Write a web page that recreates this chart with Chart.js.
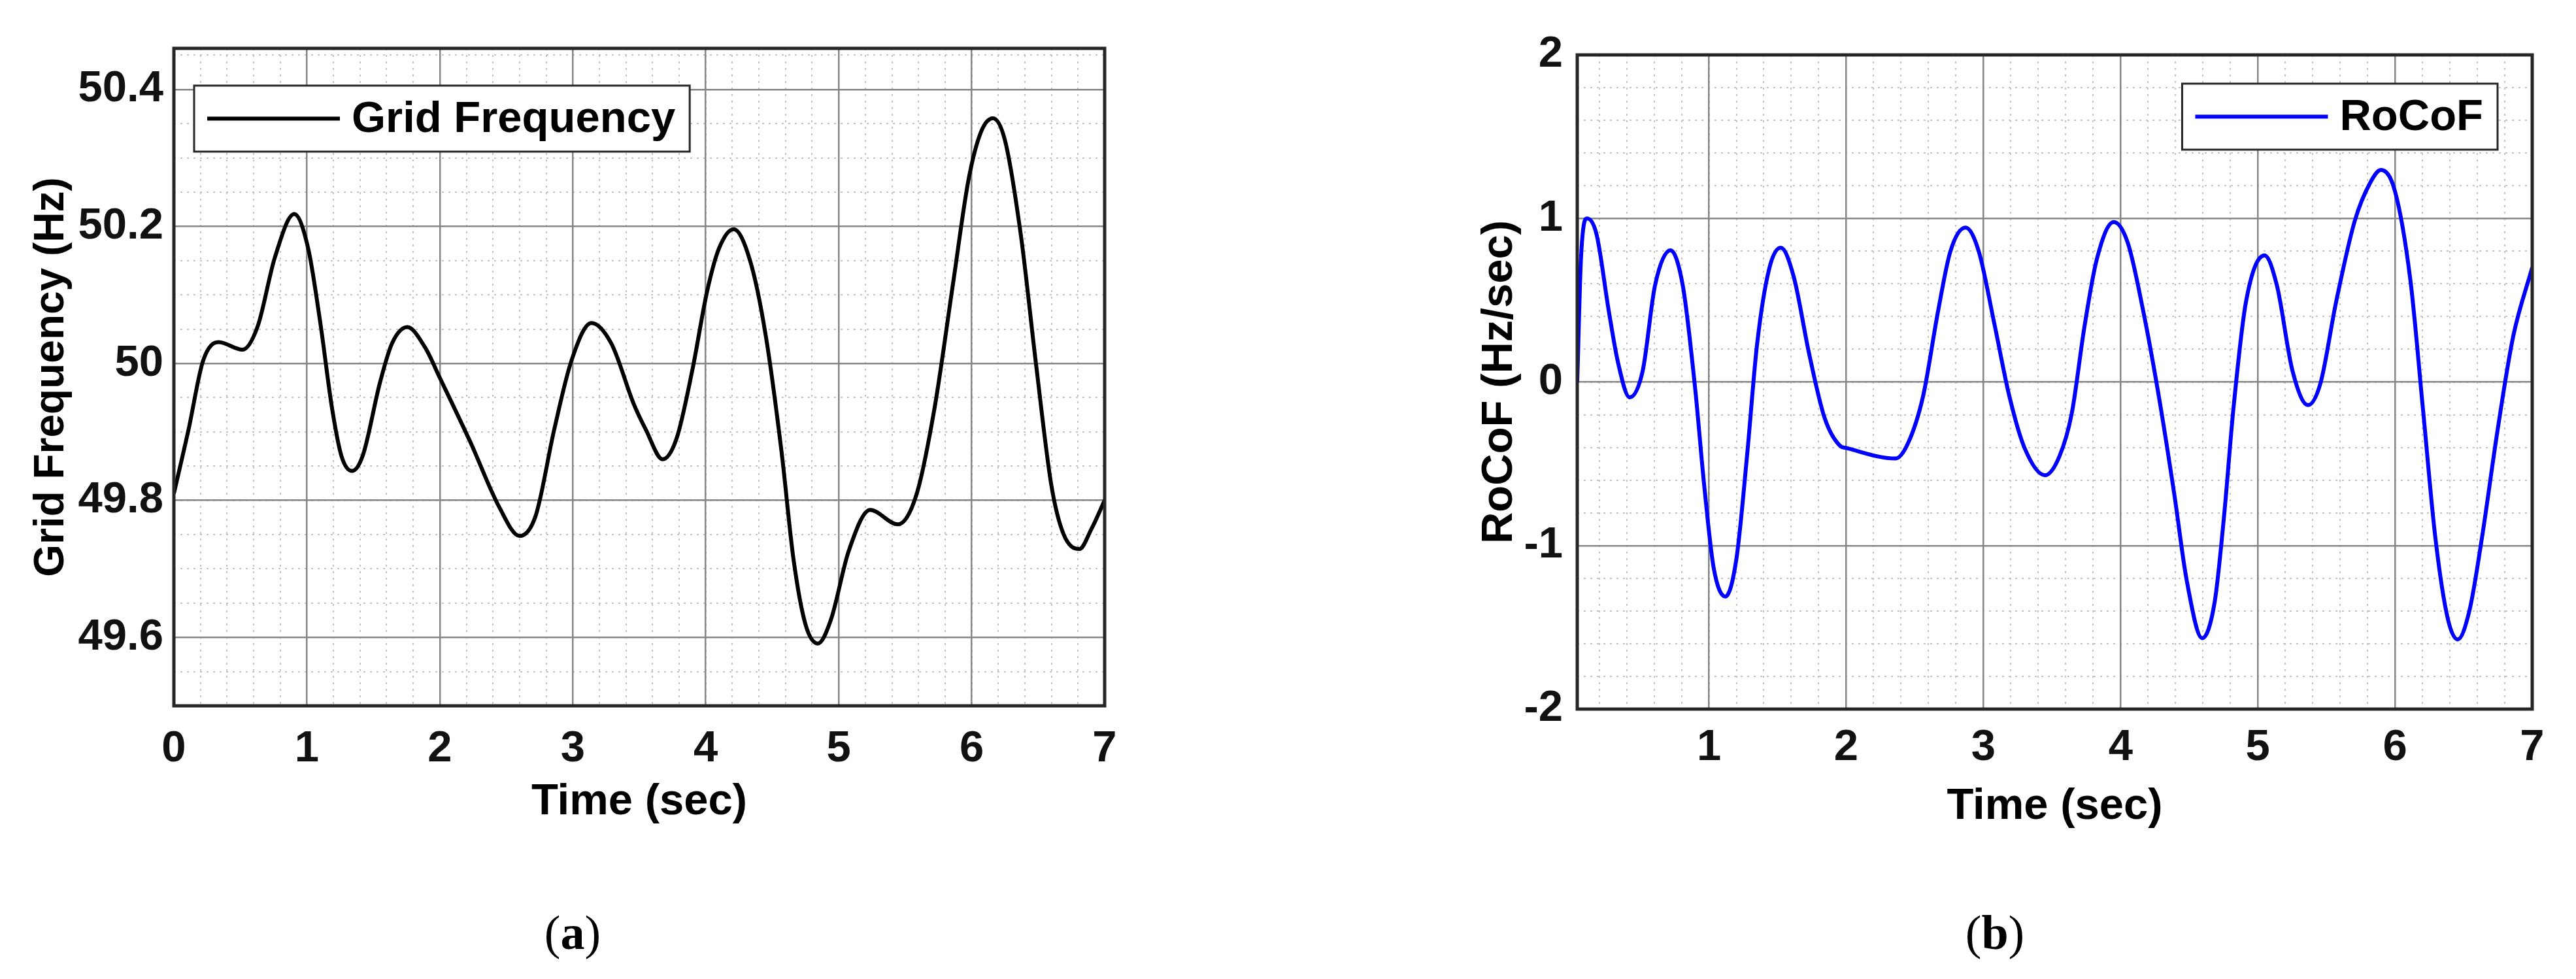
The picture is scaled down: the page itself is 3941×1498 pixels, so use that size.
<!DOCTYPE html>
<html>
<head>
<meta charset="utf-8">
<script src="https://cdn.jsdelivr.net/npm/chart.js@4.4.1/dist/chart.umd.min.js"></script>
<style>
  html, body { margin: 0; padding: 0; background: #fff; }
  #wrap { position: relative; width: 3941px; height: 1498px; background: #fff; }
  canvas { position: absolute; top: 0; }
  .cap { position: absolute; top: 1427px; transform: translate(-50%, -50%);
         font-family: "Liberation Serif", serif; font-size: 74px; color: #000; }
</style>
</head>
<body>
<div id="wrap">
  <canvas id="freqChart" width="1970" height="1300" style="left:0"></canvas>
  <canvas id="rocofChart" width="1971" height="1300" style="left:1970px"></canvas>
  <div class="cap" style="left:876px">(<b>a</b>)</div>
  <div class="cap" style="left:3052px">(<b>b</b>)</div>
</div>
<script>
// (a) grid frequency
var freqTime = [0, 0.11, 0.22, 0.336, 0.516, 0.63, 0.76, 0.905, 1.01, 1.10, 1.19, 1.26, 1.34, 1.42,
  1.55, 1.64, 1.755, 1.89, 2.0, 2.23, 2.45, 2.60, 2.72, 2.86, 2.99, 3.14, 3.29, 3.46, 3.55, 3.676,
  3.78, 3.90, 4.01, 4.10, 4.21, 4.335, 4.45, 4.57, 4.66, 4.75, 4.844, 4.94, 5.075, 5.237, 5.445,
  5.584, 5.72, 5.86, 5.977, 6.07, 6.16, 6.25, 6.37, 6.485, 6.60, 6.69, 6.81, 6.90, 7.0];
var freqValues = [49.81, 49.903, 50.004, 50.031, 50.020, 50.054, 50.155, 50.218, 50.168, 50.061,
  49.934, 49.865, 49.843, 49.865, 49.972, 50.029, 50.053, 50.023, 49.979, 49.885, 49.789, 49.748,
  49.777, 49.903, 50.004, 50.059, 50.029, 49.94, 49.903, 49.860, 49.89, 49.991, 50.105, 50.168,
  50.196, 50.149, 50.042, 49.871, 49.714, 49.619, 49.591, 49.625, 49.726, 49.786, 49.765, 49.808,
  49.934, 50.117, 50.269, 50.338, 50.358, 50.326, 50.187, 49.997, 49.821, 49.751, 49.729, 49.758, 49.80];

// (b) rate of change of frequency
var rocofTime = [0.04, 0.067, 0.112, 0.18, 0.27, 0.337, 0.422, 0.517, 0.607, 0.719, 0.809, 0.899,
  0.966, 1.034, 1.12, 1.20, 1.28, 1.35, 1.44, 1.524, 1.618, 1.73, 1.843, 1.955, 2.0, 2.36, 2.45,
  2.56, 2.67, 2.76, 2.87, 2.966, 3.08, 3.19, 3.30, 3.45, 3.554, 3.644, 3.735, 3.826, 3.95, 4.052,
  4.165, 4.279, 4.392, 4.482, 4.595, 4.686, 4.754, 4.822, 4.913, 5.049, 5.139, 5.253, 5.366, 5.456,
  5.57, 5.706, 5.819, 5.898, 6.0, 6.113, 6.204, 6.294, 6.385, 6.457, 6.543, 6.634, 6.747, 6.861, 7.0];
var rocofValues = [0.0, 0.75, 1.0, 0.905, 0.434, 0.12, -0.094, 0.068, 0.591, 0.805, 0.591, -0.037,
  -0.638, -1.135, -1.312, -1.082, -0.429, 0.225, 0.695, 0.821, 0.643, 0.173, -0.22, -0.39, -0.403,
  -0.468, -0.376, -0.089, 0.434, 0.80, 0.944, 0.80, 0.356, -0.089, -0.403, -0.57, -0.455, -0.193,
  0.329, 0.748, 0.978, 0.852, 0.434, -0.089, -0.69, -1.213, -1.566, -1.344, -0.821, -0.167, 0.486,
  0.774, 0.591, 0.068, -0.141, -0.01, 0.486, 0.983, 1.218, 1.297, 1.166, 0.617, -0.167, -0.951,
  -1.448, -1.574, -1.396, -0.951, -0.298, 0.277, 0.70];

// tick labels
var freqXTicks = [0, 1, 2, 3, 4, 5, 6, 7];
var freqYTicks = [49.6, 49.8, 50, 50.2, 50.4];
var rocofXTicks = [1, 2, 3, 4, 5, 6, 7];
var rocofYTicks = [-2, -1, 0, 1, 2];

Chart.defaults.font.family = '"Liberation Sans", Arial, sans-serif';
Chart.defaults.color = '#111';

var FONT = { size: 67, weight: 'bold', lineHeight: 1.2 };

function toPoints(xs, ys) {
  return xs.map(function (x, i) { return { x: x, y: ys[i] }; });
}

// positions for the dotted minor grid
function minorTicks(min, max, step) {
  var out = [];
  var start = Math.ceil(min / step - 1e-9);
  for (var k = start; k * step <= max + 1e-9; k++) out.push({ value: +(k * step).toFixed(4) });
  return out;
}

// MATLAB-like box around the axes
var frame = {
  id: 'frame',
  afterDatasetsDraw: function (chart) {
    var a = chart.chartArea, ctx = chart.ctx;
    ctx.save();
    ctx.strokeStyle = '#262626';
    ctx.lineWidth = 5;
    ctx.strokeRect(a.left, a.top, a.right - a.left, a.bottom - a.top);
    ctx.restore();
  }
};

// boxed legend inside the axes
var boxLegend = {
  id: 'boxLegend',
  afterDraw: function (chart, args, o) {
    var ctx = chart.ctx, a = chart.chartArea;
    var ds = chart.data.datasets[0];
    ctx.save();
    ctx.font = 'bold 67px "Liberation Sans"';
    var tw = ctx.measureText(ds.label).width;
    var w = 20 + 203 + 18 + tw + 22, h = 101;
    var x = o.side === 'left' ? a.left + o.dx : a.right - o.dx - w;
    var y = a.top + o.dy;
    ctx.fillStyle = '#fff';
    ctx.fillRect(x, y, w, h);
    ctx.strokeStyle = '#262626';
    ctx.lineWidth = 3;
    ctx.strokeRect(x, y, w, h);
    ctx.strokeStyle = ds.borderColor;
    ctx.lineWidth = 6;
    ctx.beginPath();
    ctx.moveTo(x + 20, y + h / 2);
    ctx.lineTo(x + 223, y + h / 2);
    ctx.stroke();
    ctx.fillStyle = '#000';
    ctx.textBaseline = 'middle';
    ctx.fillText(ds.label, x + 241, y + h / 2 + 2);
    ctx.restore();
  }
};

function makeChart(id, cfg) {
  var ctx = document.getElementById(id).getContext('2d');
  return new Chart(ctx, {
    type: 'line',
    data: {
      datasets: [{
        label: cfg.label,
        data: cfg.data,
        borderColor: cfg.color,
        borderWidth: 6,
        pointRadius: 0,
        fill: false,
        cubicInterpolationMode: 'monotone'
      }]
    },
    options: {
      responsive: false,
      animation: false,
      layout: { padding: cfg.padding },
      plugins: {
        legend: { display: false },
        tooltip: { enabled: false },
        boxLegend: cfg.legend
      },
      scales: {
        xm: {
          type: 'linear', position: 'bottom', min: cfg.xMin, max: cfg.xMax,
          afterBuildTicks: function (s) { s.ticks = minorTicks(cfg.xMin, cfg.xMax, 0.2); },
          afterFit: function (s) { s.height = 0; },
          ticks: { display: false },
          grid: { color: '#c4c4c4', lineWidth: 2, drawTicks: false },
          border: { display: false, dash: [3, 7] }
        },
        ym: {
          type: 'linear', position: 'left', min: cfg.yMin, max: cfg.yMax,
          afterBuildTicks: function (s) { s.ticks = minorTicks(cfg.yMin, cfg.yMax, cfg.yMinor); },
          afterFit: function (s) { s.width = 0; },
          ticks: { display: false },
          grid: { color: '#c4c4c4', lineWidth: 2, drawTicks: false },
          border: { display: false, dash: [3, 7] }
        },
        x: {
          type: 'linear', position: 'bottom', min: cfg.xMin, max: cfg.xMax,
          afterBuildTicks: function (s) { s.ticks = cfg.xTicks.map(function (v) { return { value: v }; }); },
          afterFit: function (s) { s.height = 200; },
          ticks: { font: FONT, padding: cfg.xTickPad, maxRotation: 0, callback: function (v) { return String(v); } },
          grid: { color: '#868686', lineWidth: 2.5, drawTicks: false },
          border: { display: false },
          title: { display: true, text: 'Time (sec)', font: FONT, color: '#000', padding: { top: 0, bottom: cfg.xTitlePad } }
        },
        y: {
          type: 'linear', position: 'left', min: cfg.yMin, max: cfg.yMax,
          afterBuildTicks: function (s) { s.ticks = cfg.yTicks.map(function (v) { return { value: v }; }); },
          afterFit: function (s) { s.width = cfg.yWidth; },
          ticks: { font: FONT, padding: cfg.yTickPad, callback: function (v) { return String(v); } },
          grid: { color: '#868686', lineWidth: 2.5, drawTicks: false },
          border: { display: false },
          title: { display: true, text: cfg.yTitle, font: cfg.yTitleFont, color: '#000', padding: { top: cfg.yTitlePad, bottom: 0 } }
        }
      }
    },
    plugins: [frame, boxLegend]
  });
}

makeChart('freqChart', {
  label: 'Grid Frequency',
  data: toPoints(freqTime, freqValues),
  color: '#000000',
  xMin: 0, xMax: 7, yMin: 49.5, yMax: 50.46, yMinor: 0.05,
  xTicks: freqXTicks, yTicks: freqYTicks,
  padding: { left: 0, top: 74, right: 280, bottom: 20 },
  yWidth: 266, yTickPad: 16, xTickPad: 26, xTitlePad: 12,
  yTitle: 'Grid Frequency (Hz)', yTitleFont: { size: 64, weight: 'bold', lineHeight: 1.2 }, yTitlePad: 41,
  legend: { side: 'left', dx: 31, dy: 57 }
});

makeChart('rocofChart', {
  label: 'RoCoF',
  data: toPoints(rocofTime, rocofValues),
  color: '#0000ff',
  xMin: 0.04, xMax: 7, yMin: -2, yMax: 2, yMinor: 0.2,
  xTicks: rocofXTicks, yTicks: rocofYTicks,
  padding: { left: 0, top: 84, right: 67, bottom: 15 },
  yWidth: 443, yTickPad: 22, xTickPad: 19, xTitlePad: 10,
  yTitle: 'RoCoF (Hz/sec)', yTitleFont: FONT, yTitlePad: 284,
  legend: { side: 'right', dx: 53, dy: 44 }
});
</script>
</body>
</html>
